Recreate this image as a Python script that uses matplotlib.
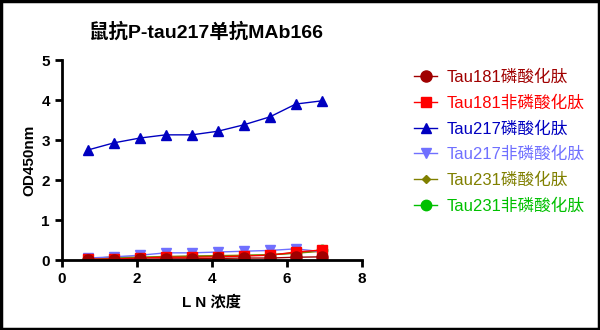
import matplotlib.pyplot as plt
from matplotlib.patches import Rectangle

plt.rcParams['font.family'] = ['Liberation Sans', 'Noto Sans CJK SC']

# ln of dilution
ln_conc = [0.69, 1.39, 2.08, 2.77, 3.47, 4.16, 4.85, 5.55, 6.24, 6.93]

tau181_p = [0.0, 0.01, 0.02, 0.03, 0.03, 0.04, 0.05, 0.05, 0.07, 0.08]
tau181_np = [0.02, 0.03, 0.05, 0.07, 0.07, 0.08, 0.10, 0.12, 0.20, 0.25]
tau217_p = [2.75, 2.93, 3.05, 3.13, 3.13, 3.22, 3.38, 3.58, 3.90, 3.98]
tau217_np = [0.05, 0.08, 0.12, 0.18, 0.18, 0.20, 0.22, 0.24, 0.28, 0.21]
tau231_p = [0.03, 0.08, 0.07, 0.09, 0.10, 0.11, 0.12, 0.13, 0.17, 0.22]
tau231_np = [0.02, 0.05, 0.06, 0.08, 0.09, 0.10, 0.11, 0.13, 0.18, 0.24]

series = [
    ('Tau181磷酸化肽', tau181_p, '#A00000', 'o', 8),
    ('Tau181非磷酸化肽', tau181_np, '#FF0000', 's', 7.5),
    ('Tau217磷酸化肽', tau217_p, '#0000C0', '^', 7.5),
    ('Tau217非磷酸化肽', tau217_np, '#7070FF', 'v', 7.5),
    ('Tau231磷酸化肽', tau231_p, '#808000', 'D', 4.5),
    ('Tau231非磷酸化肽', tau231_np, '#00C000', 'o', 7.5),
]

fig = plt.figure(figsize=(6, 3.3), dpi=100)
ax = fig.add_axes([0.103, 0.212, 0.5, 0.606])

# draw in reverse so the red ones end up on top like the original
for name, vals, col, mk, ms in reversed(series):
    ax.plot(ln_conc, vals, color=col, marker=mk, markersize=ms, linewidth=1, label=name)

ax.set_xlim(0, 8)
ax.set_ylim(0, 5)
ax.set_xticks([0, 2, 4, 6, 8])
ax.set_yticks([0, 1, 2, 3, 4, 5])
for s in ['top', 'right']:
    ax.spines[s].set_visible(False)
for s in ['left', 'bottom']:
    ax.spines[s].set_linewidth(2)
ax.tick_params(width=2, length=5, labelsize=11)
for lbl in ax.get_xticklabels() + ax.get_yticklabels():
    lbl.set_fontweight('bold')

ax.set_xlabel('L N 浓度', fontsize=11, fontweight='bold', labelpad=6)
ax.set_ylabel('OD450nm', fontsize=11, fontweight='bold', labelpad=4)
ax.set_title('鼠抗P-tau217单抗MAb166', fontsize=14, fontweight='bold', pad=16, x=0.48)

handles, labels = ax.get_legend_handles_labels()
leg = fig.legend(handles[::-1], labels[::-1], loc='upper left', bbox_to_anchor=(0.665, 0.835),
                 frameon=False, fontsize=12, labelcolor='linecolor', handlelength=1.4,
                 labelspacing=0.62, handletextpad=0.55)

fig.patches.append(Rectangle((0.002, 0.003), 0.996, 0.994, transform=fig.transFigure,
                             fill=False, edgecolor='black', linewidth=2.5))

fig.savefig('out.png', dpi=100)
